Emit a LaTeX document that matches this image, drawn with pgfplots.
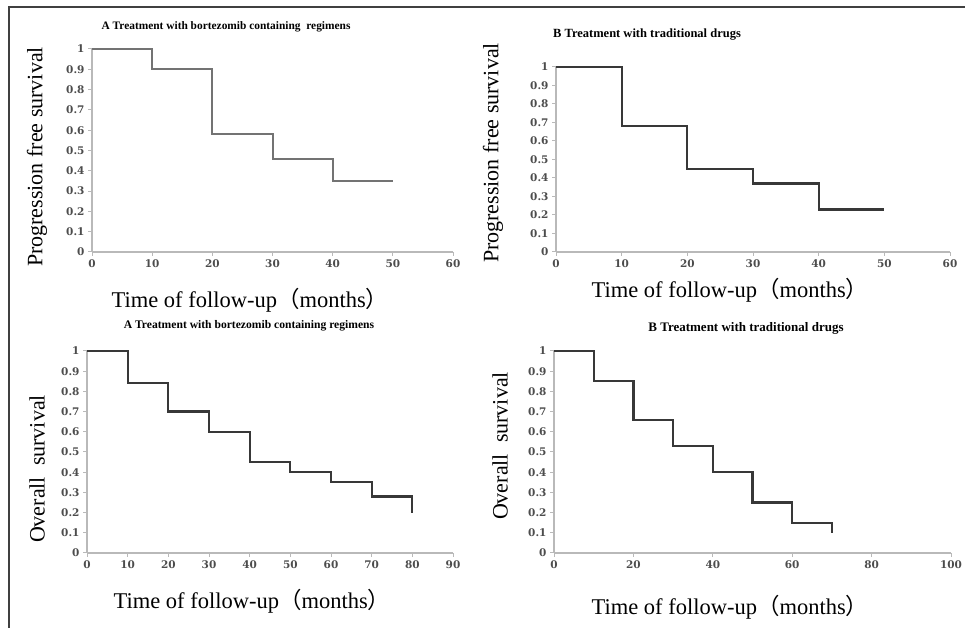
\documentclass[border=0pt]{standalone}
\usepackage{pgfplots}
\pgfplotsset{compat=1.18}
\usepackage{fontspec}
\setmainfont{Liberation Serif}
\newfontfamily\tickfont{DejaVu Serif}
\newfontfamily\cjk{Noto Sans CJK SC}

\pgfplotsset{
  km/.style={
    scale only axis, anchor=south west,
    xmin=0, ymin=0, ymax=1,
    axis x line=bottom, axis y line=left,
    axis line style={-, gray!55, line width=1.3pt},
    tick style={gray!55, line width=1pt},
    major tick length=4pt, tick align=outside,
    ytick={0,0.1,0.2,0.3,0.4,0.5,0.6,0.7,0.8,0.9,1},
    yticklabels={0,0.1,0.2,0.3,0.4,0.5,0.6,0.7,0.8,0.9,1},
    xticklabel style={font=\tickfont\bfseries\fontsize{10.5}{12}\selectfont, text=black!70},
    yticklabel style={font=\tickfont\bfseries\fontsize{10.5}{12}\selectfont, text=black!70},
    /pgf/number format/assume math mode=true,
    clip=false,
  },
  step/.style={const plot mark left, no marks, line width=2.3pt, color=black!78, line join=miter},
}
\newcommand{\xlab}{Time of follow-up{\cjk （}months{\cjk ）}}

\begin{document}
\begin{tikzpicture}[x=1pt,y=1pt]
\path[use as bounding box] (0,0) rectangle (965,628);
\draw[black!75, line width=1.5pt] (9,0) -- (9,621) -- (965,621);

% A: progression free survival
\begin{axis}[km, at={(92pt,376pt)}, width=361pt, height=203pt,
  xmax=60, xtick={0,10,20,30,40,50,60}]
\addplot[step, color=black!55, line width=2pt] coordinates {
  (0,1)(10,0.9)(20,0.58)(30,0.46)(40,0.35)(50,0.35)};
\end{axis}

% B: progression free survival
\begin{axis}[km, at={(556pt,376pt)}, width=394pt, height=185pt,
  xmax=60, xtick={0,10,20,30,40,50,60}]
\addplot[step] coordinates {
  (0,1)(10,0.68)(20,0.45)(30,0.37)(40,0.23)(50,0.23)};
\end{axis}

% A: overall survival
\begin{axis}[km, at={(87pt,75pt)}, width=366pt, height=202pt,
  xmax=90, xtick={0,10,20,30,40,50,60,70,80,90}]
\addplot[step] coordinates {
  (0,1)(10,0.84)(20,0.70)(30,0.60)(40,0.45)(50,0.40)(60,0.35)(70,0.28)(80,0.20)};
\end{axis}

% B: overall survival
\begin{axis}[km, at={(554pt,75pt)}, width=397pt, height=202pt,
  xmax=100, xtick={0,20,40,60,80,100}]
\addplot[step] coordinates {
  (0,1)(10,0.85)(20,0.66)(30,0.53)(40,0.40)(50,0.25)(60,0.15)(70,0.10)};
\end{axis}

% titles
\node[font=\bfseries\fontsize{11.4}{14}\selectfont] at (226,601) {A Treatment with bortezomib containing\ \ regimens};
\node[font=\bfseries\fontsize{12.5}{14}\selectfont] at (647,593) {B Treatment with traditional drugs};
\node[font=\bfseries\fontsize{11.6}{14}\selectfont] at (249,302) {A Treatment with bortezomib containing regimens};
\node[font=\bfseries\fontsize{13}{14}\selectfont] at (746,300) {B Treatment with traditional drugs};

% y labels
\node[rotate=90, font=\fontsize{22}{24}\selectfont] at (37,471) {Progression free survival};
\node[rotate=90, font=\fontsize{22}{24}\selectfont] at (493,475) {Progression free survival};
\node[rotate=90, font=\fontsize{22}{24}\selectfont] at (37,159) {Overall\ \ survival};
\node[rotate=90, font=\fontsize{22}{24}\selectfont] at (500,182) {Overall\ \ survival};

% x labels
\node[font=\fontsize{22.5}{24}\selectfont] at (250,328) {\xlab};
\node[font=\fontsize{22.5}{24}\selectfont] at (730,338) {\xlab};
\node[font=\fontsize{22.5}{24}\selectfont] at (252,27) {\xlab};
\node[font=\fontsize{22.5}{24}\selectfont] at (730,21) {\xlab};
\end{tikzpicture}
\end{document}
